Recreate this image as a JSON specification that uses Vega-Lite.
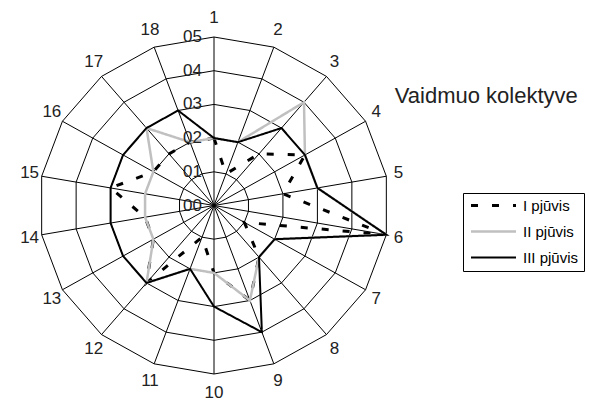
{
  "$schema": "https://vega.github.io/schema/vega-lite/v6.json",
  "width": 350,
  "height": 337,
  "autosize": {"type": "none"},
  "padding": {"left": 39, "top": 37, "right": 200, "bottom": 28},
  "background": "white",
  "config": {"view": {"stroke": null}, "font": "Liberation Sans"},
  "datasets": {
    "cats": [
      {"cat": 1, "level": [10, 20, 30, 40, 50]},
      {"cat": 2, "level": [10, 20, 30, 40, 50]},
      {"cat": 3, "level": [10, 20, 30, 40, 50]},
      {"cat": 4, "level": [10, 20, 30, 40, 50]},
      {"cat": 5, "level": [10, 20, 30, 40, 50]},
      {"cat": 6, "level": [10, 20, 30, 40, 50]},
      {"cat": 7, "level": [10, 20, 30, 40, 50]},
      {"cat": 8, "level": [10, 20, 30, 40, 50]},
      {"cat": 9, "level": [10, 20, 30, 40, 50]},
      {"cat": 10, "level": [10, 20, 30, 40, 50]},
      {"cat": 11, "level": [10, 20, 30, 40, 50]},
      {"cat": 12, "level": [10, 20, 30, 40, 50]},
      {"cat": 13, "level": [10, 20, 30, 40, 50]},
      {"cat": 14, "level": [10, 20, 30, 40, 50]},
      {"cat": 15, "level": [10, 20, 30, 40, 50]},
      {"cat": 16, "level": [10, 20, 30, 40, 50]},
      {"cat": 17, "level": [10, 20, 30, 40, 50]},
      {"cat": 18, "level": [10, 20, 30, 40, 50]}
    ],
    "rings": [
      {"level": 0, "label": "00"},
      {"level": 10, "label": "01"},
      {"level": 20, "label": "02"},
      {"level": 30, "label": "03"},
      {"level": 40, "label": "04"},
      {"level": 50, "label": "05"}
    ],
    "series": [
      {"series": "I pjūvis", "cat": 1, "value": 20},
      {"series": "I pjūvis", "cat": 2, "value": 10},
      {"series": "I pjūvis", "cat": 3, "value": 20},
      {"series": "I pjūvis", "cat": 4, "value": 30},
      {"series": "I pjūvis", "cat": 5, "value": 20},
      {"series": "I pjūvis", "cat": 6, "value": 50},
      {"series": "I pjūvis", "cat": 7, "value": 10},
      {"series": "I pjūvis", "cat": 8, "value": 20},
      {"series": "I pjūvis", "cat": 9, "value": 30},
      {"series": "I pjūvis", "cat": 10, "value": 20},
      {"series": "I pjūvis", "cat": 11, "value": 10},
      {"series": "I pjūvis", "cat": 12, "value": 30},
      {"series": "I pjūvis", "cat": 13, "value": 20},
      {"series": "I pjūvis", "cat": 14, "value": 20},
      {"series": "I pjūvis", "cat": 15, "value": 30},
      {"series": "I pjūvis", "cat": 16, "value": 20},
      {"series": "I pjūvis", "cat": 17, "value": 20},
      {"series": "I pjūvis", "cat": 18, "value": 20},
      {"series": "II pjūvis", "cat": 1, "value": 20},
      {"series": "II pjūvis", "cat": 2, "value": 20},
      {"series": "II pjūvis", "cat": 3, "value": 40},
      {"series": "II pjūvis", "cat": 4, "value": 30},
      {"series": "II pjūvis", "cat": 5, "value": 30},
      {"series": "II pjūvis", "cat": 6, "value": 50},
      {"series": "II pjūvis", "cat": 7, "value": 20},
      {"series": "II pjūvis", "cat": 8, "value": 20},
      {"series": "II pjūvis", "cat": 9, "value": 30},
      {"series": "II pjūvis", "cat": 10, "value": 20},
      {"series": "II pjūvis", "cat": 11, "value": 20},
      {"series": "II pjūvis", "cat": 12, "value": 30},
      {"series": "II pjūvis", "cat": 13, "value": 20},
      {"series": "II pjūvis", "cat": 14, "value": 20},
      {"series": "II pjūvis", "cat": 15, "value": 20},
      {"series": "II pjūvis", "cat": 16, "value": 20},
      {"series": "II pjūvis", "cat": 17, "value": 30},
      {"series": "II pjūvis", "cat": 18, "value": 20},
      {"series": "III pjūvis", "cat": 1, "value": 20},
      {"series": "III pjūvis", "cat": 2, "value": 20},
      {"series": "III pjūvis", "cat": 3, "value": 30},
      {"series": "III pjūvis", "cat": 4, "value": 30},
      {"series": "III pjūvis", "cat": 5, "value": 30},
      {"series": "III pjūvis", "cat": 6, "value": 50},
      {"series": "III pjūvis", "cat": 7, "value": 20},
      {"series": "III pjūvis", "cat": 8, "value": 20},
      {"series": "III pjūvis", "cat": 9, "value": 40},
      {"series": "III pjūvis", "cat": 10, "value": 30},
      {"series": "III pjūvis", "cat": 11, "value": 20},
      {"series": "III pjūvis", "cat": 12, "value": 30},
      {"series": "III pjūvis", "cat": 13, "value": 30},
      {"series": "III pjūvis", "cat": 14, "value": 30},
      {"series": "III pjūvis", "cat": 15, "value": 30},
      {"series": "III pjūvis", "cat": 16, "value": 30},
      {"series": "III pjūvis", "cat": 17, "value": 30},
      {"series": "III pjūvis", "cat": 18, "value": 30}
    ]
  },
  "layer": [
    {
      "data": {"name": "cats"},
      "transform": [
        {"flatten": ["level"]},
        {"calculate": "(datum.cat - 1) * PI / 9", "as": "a"},
        {"calculate": "datum.level * sin(datum.a)", "as": "px"},
        {"calculate": "datum.level * cos(datum.a)", "as": "py"}
      ],
      "mark": {"type": "line", "interpolate": "linear-closed", "stroke": "black", "strokeWidth": 1},
      "encoding": {
        "x": {"field": "px", "type": "quantitative", "scale": {"domain": [-50, 50], "nice": false, "zero": false}, "axis": null},
        "y": {"field": "py", "type": "quantitative", "scale": {"domain": [-50, 50], "nice": false, "zero": false}, "axis": null},
        "detail": {"field": "level"},
        "order": {"field": "cat", "type": "quantitative"}
      }
    },
    {
      "data": {"name": "cats"},
      "transform": [
        {"calculate": "(datum.cat - 1) * PI / 9", "as": "a"},
        {"calculate": "50 * sin(datum.a)", "as": "ex"},
        {"calculate": "50 * cos(datum.a)", "as": "ey"}
      ],
      "mark": {"type": "rule", "stroke": "black", "strokeWidth": 1},
      "encoding": {
        "x": {"field": "ex", "type": "quantitative"},
        "y": {"field": "ey", "type": "quantitative"},
        "x2": {"datum": 0},
        "y2": {"datum": 0}
      }
    },
    {
      "data": {"name": "series"},
      "transform": [
        {"calculate": "(datum.cat - 1) * PI / 9", "as": "a"},
        {"calculate": "datum.value * sin(datum.a)", "as": "px"},
        {"calculate": "datum.value * cos(datum.a)", "as": "py"}
      ],
      "mark": {"type": "line", "interpolate": "linear-closed", "strokeCap": "butt"},
      "encoding": {
        "x": {"field": "px", "type": "quantitative"},
        "y": {"field": "py", "type": "quantitative"},
        "order": {"field": "cat", "type": "quantitative"},
        "color": {
          "field": "series", "type": "nominal",
          "scale": {"domain": ["I pjūvis", "II pjūvis", "III pjūvis"], "range": ["#000000", "#c0c0c0", "#000000"]},
          "legend": {
            "orient": "none", "legendX": 424, "legendY": 156, "title": null,
            "symbolType": "M-5,0H5", "symbolSize": 81, "symbolOffset": 18,
            "labelFontSize": 15, "labelColor": "black", "labelOffset": 22,
            "padding": 5, "rowPadding": 10, "strokeColor": "black", "fillColor": "white",
            "labelFont": "Liberation Sans"
          }
        },
        "strokeDash": {
          "field": "series", "type": "nominal",
          "scale": {"domain": ["I pjūvis", "II pjūvis", "III pjūvis"], "range": [[7, 14], [1, 0], [1, 0]]}
        },
        "strokeWidth": {
          "field": "series", "type": "nominal",
          "scale": {"domain": ["I pjūvis", "II pjūvis", "III pjūvis"], "range": [3, 2, 2]}
        }
      }
    },
    {
      "data": {"name": "rings"},
      "mark": {"type": "text", "align": "right", "baseline": "middle", "dx": -12, "fontSize": 17, "color": "#222222"},
      "encoding": {
        "x": {"datum": 0},
        "y": {"field": "level", "type": "quantitative"},
        "text": {"field": "label"}
      }
    },
    {
      "data": {"name": "cats"},
      "transform": [
        {"calculate": "(datum.cat - 1) * PI / 9", "as": "a"},
        {"calculate": "53.5 * sin(datum.a)", "as": "lx"},
        {"calculate": "55.5 * cos(datum.a)", "as": "ly"}
      ],
      "mark": {"type": "text", "align": "center", "baseline": "middle", "fontSize": 17, "color": "#222222"},
      "encoding": {
        "x": {"field": "lx", "type": "quantitative"},
        "y": {"field": "ly", "type": "quantitative"},
        "text": {"field": "cat", "type": "quantitative"}
      }
    },
    {
      "data": {"values": [{"t": "Vaidmuo kolektyve"}]},
      "mark": {"type": "text", "align": "center", "baseline": "alphabetic", "fontSize": 22, "color": "#222222"},
      "encoding": {
        "x": {"datum": 77.8},
        "y": {"datum": 30.5},
        "text": {"field": "t"}
      }
    }
  ]
}
